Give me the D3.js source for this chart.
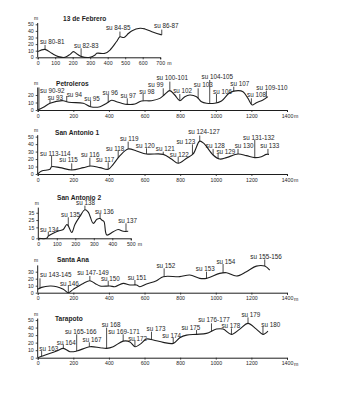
<!DOCTYPE html>
<html><head><meta charset="utf-8">
<script src="https://cdn.jsdelivr.net/npm/d3@7"></script>
<style>
html,body{margin:0;padding:0;background:#fff;}
svg{display:block;}
text{font-family:"Liberation Sans",Arial,sans-serif;fill:#1e1e1e;}
</style></head>
<body><svg id="c" width="342" height="400"></svg>
<script>
// ---------- DATA (distance in m, elevation in m) ----------
const febreroDist = [0,42,80,118,156,185,204,227,251,299,328,337,385,413,451,470,493,518,537,585,613,661,709];
const febreroElev = [8.6,12,6,1,0,4.5,8.6,4.5,1,0,3.5,6,6,11,24,31,30,36,40,44,43,38,34];
const febreroLabels = [["su 80-81",13,23.7,42,18.7],["su 82-83",208,17,248,13.6],["su 84-85",390,44,470,39],["su 86-87",665,47.5,709,42]];

const petrolerosDist = [0,32,69,144,163,190,256,297,350,387,415,443,471,503,546,583,639,686,714,742,770,798,826,854,892,920,948,994,1032,1078,1125,1153,1181,1204,1228,1265,1293];
const petrolerosElev = [0,3.6,9,12.4,11,10,9,4.4,4.4,9,13,11,9,7.5,8,12,12.4,15.5,21,25.8,20,12.4,17.8,20,17.8,11,9,9,12,23,25.8,24.4,15.5,6.7,9.8,13.3,17.8];
const petrolerosLabels = [["su 90-92",13,25.8,7,30],["su 93",56,16.4,69,13.3],["su 94",163,20.9,163,18.7],["su 95",262,15.6,297,12.4],["su 96",364,23,396,20],["su 97",465,18.7,503,15.6],["su 98",570,24.4,592,21.3],["su 99",620,33.3,705,28.9],["su 100-101",667,43.6,742,37.8],["su 102",761,25.8,798,21.3],["su 103",877,33.3,901,28.9],["su 104-105",920,44.4,966,40],["su 106",985,24.4,1004,21.3],["su 107",1082,34.7,1101,31.1],["su 108",1176,20,1200,15.6],["su 109-110",1228,30.2,1284,25.8]];

const antonio1Dist = [0,22,69,78,125,191,256,297,350,396,424,462,508,555,611,705,751,789,836,873,910,933,985,1022,1060,1125,1172,1219,1256,1284,1299];
const antonio1Elev = [0,4,6.3,9.8,8.5,5.4,8.5,10.7,8.5,6.3,13,24.6,33.5,30.8,26.8,26.3,20,14.3,21,26.8,44,41,25.4,20,21.9,26.8,24.6,21.9,23.2,26.3,26.3];
const antonio1Labels = [["su 113-114",13,27.7,78,24.6],["su 115",121,18.8,191,14.3],["su 116",243,26.3,293,21.9],["su 117",327,18.8,396,15.6],["su 118",383,34.4,452,31.3],["su 119",462,46.9,508,43.3],["su 120",551,37.5,611,34.4],["su 121",663,33.5,705,29.9],["su 122",742,26.3,789,23.2],["su 123",779,43.3,869,39.7],["su 124-127",845,56.6,910,51.5],["su 128",944,37.5,985,33.5],["su 129",1004,29.9,1013,26.8],["su 130",1106,37.5,1125,33.5],["su 131-132",1153,49.1,1219,45.5],["su 133",1250,37.5,1293,33.5]];

const antonio2Dist = [0,45,54,81,108,135,154,162,181,198,225,252,270,297,317,334,343,355,370,405,432,459,486];
const antonio2Elev = [0,0,3,7,10,12,19,17,8,19,30,39,36,20.5,26,27,25,23,4.5,9,12,9.6,9.6];
const antonio2Labels = [["su 134",9,12.3,54,9],["su 135",123,31.9,162,28.8],["su 138",204,48,252,44.7],["su 136",306,36.4,334,33.3],["su 137",432,23.7,474,20.5]];

const santaAnaDist = [0,22,69,107,144,172,200,256,293,322,350,406,434,480,518,555,574,611,667,705,798,854,910,948,1022,1060,1116,1172,1228,1275,1303];
const santaAnaElev = [4.8,7.6,9.5,8.6,4.8,0,4.8,13.3,17,13.3,9.5,9.5,8.6,13.3,11,11,8.6,12.4,17,22.9,22.9,25.2,20.5,20.5,27.6,28.6,23.8,30,38,38,32.4];
const santaAnaLabels = [["su 143-145",13,25.2,13,20.5],["su 146",125,13.3,172,11],["su 147-149",222,28.6,293,23.8],["su 150",355,20.5,396,17.1],["su 151",505,21.9,546,18.1],["su 152",667,38.1,710,34.8],["su 153",888,34.8,948,30],["su 154",1004,44.3,1041,41],["su 155-156",1194,51.4,1275,47.6]];

const tarapotoDist = [0,32,107,144,181,219,293,350,387,424,480,518,546,574,611,649,705,761,798,836,892,948,1004,1041,1088,1135,1181,1228,1265,1293];
const tarapotoElev = [0,2.7,8.8,12.4,8,8.8,14.6,13.3,12.4,14.6,22,21,14.6,17.7,24.8,23.5,20.4,19,26.5,30,31,32.3,38,38,31,38,45.6,38,31,35.4];
const tarapotoLabels = [["su 163",9,12.4,22,8.8],["su 164",107,20.4,144,17.7],["su 165-166",153,34.5,219,31],["su 167",252,23.5,290,20.4],["su 168",359,43.4,387,39.8],["su 169-171",396,34.5,480,31],["su 172",508,25.7,546,23.5],["su 173",611,38,639,34.5],["su 174",699,29.2,761,26.5],["su 175",807,39.8,892,36.7],["su 176-177",901,50,976,45.6],["su 178",1032,42.5,1088,38.9],["su 179",1144,56.6,1181,53.5],["su 180",1256,44.2,1265,41.2]];

const panelTitles = ["13 de Febrero","Petroleros","San Antonio 1","San Antonio 2","Santa Ana","Tarapoto"];
const xTicksShort = [0,100,200,300,400,500,600,700];
const xTicksLong = [0,200,400,600,800,1000,1200,1400];
const xTicksSA2 = [0,100,200,300,400,500];
const yTicks1 = [0,10,20,30,40,50];
const yTicks2 = [0,10,20];
const yTicks4 = [0,15,25,35];
const yTicks5 = [0,10,20,30];

// ---------- LAYOUT ----------
const panels = [
  {title:panelTitles[0], dist:febreroDist, elev:febreroElev, labels:febreroLabels, xMax:700, xTicks:xTicksShort, yTicks:yTicks1, yTop:52,
   x0:37.7, x1:160.2, y0:57.3, pxPer10:6.6, tx:63, ty:19},
  {title:panelTitles[1], dist:petrolerosDist, elev:petrolerosElev, labels:petrolerosLabels, xMax:1400, xTicks:xTicksLong, yTicks:yTicks2, yTop:30,
   x0:37.7, x1:287, y0:110, pxPer10:7.5, tx:56, ty:83.3},
  {title:panelTitles[2], dist:antonio1Dist, elev:antonio1Elev, labels:antonio1Labels, xMax:1400, xTicks:xTicksLong, yTicks:yTicks1, yTop:52,
   x0:37.7, x1:287, y0:174, pxPer10:7.47, tx:55, ty:132.3},
  {title:panelTitles[3], dist:antonio2Dist, elev:antonio2Elev, labels:antonio2Labels, xMax:500, xTicks:xTicksSA2, yTicks:yTicks4, yTop:42,
   x0:38.3, x1:130.8, y0:238.3, pxPer10:7.3, tx:57, ty:197.5},
  {title:panelTitles[4], dist:santaAnaDist, elev:santaAnaElev, labels:santaAnaLabels, xMax:1400, xTicks:xTicksLong, yTicks:yTicks5, yTop:39,
   x0:37.7, x1:287, y0:292.7, pxPer10:7, tx:57, ty:260},
  {title:panelTitles[5], dist:tarapotoDist, elev:tarapotoElev, labels:tarapotoLabels, xMax:1400, xTicks:xTicksLong, yTicks:yTicks1, yTop:52,
   x0:37.7, x1:287, y0:357.7, pxPer10:7.53, tx:55, ty:318.3}
];

const ink = "#1e1e1e";
const svg = d3.select("#c");

function interp(dist, elev, m){
  if (m <= dist[0]) return elev[0];
  for (let i=1;i<dist.length;i++){
    if (m <= dist[i]){
      const t=(m-dist[i-1])/(dist[i]-dist[i-1]);
      return elev[i-1]+t*(elev[i]-elev[i-1]);
    }
  }
  return elev[elev.length-1];
}

panels.forEach(p=>{
  const x = d3.scaleLinear().domain([0,p.xMax]).range([p.x0,p.x1]);
  const y = d3.scaleLinear().domain([0,10]).range([p.y0,p.y0-p.pxPer10]);
  const g = svg.append("g");

  // title
  g.append("text").attr("x",p.tx).attr("y",p.ty).attr("dy","0.35em")
    .attr("font-size","6.6px").attr("font-weight","bold").text(p.title);

  // x axis
  const xa = d3.axisBottom(x).tickValues(p.xTicks).tickSize(2).tickPadding(2).tickFormat(d3.format("d"));
  const gx = g.append("g").attr("transform",`translate(0,${p.y0})`).call(xa);
  gx.select(".domain").attr("stroke",ink).attr("stroke-width",1);
  gx.selectAll(".tick line").attr("stroke",ink).attr("stroke-width",0.8);
  gx.selectAll(".tick text").attr("font-size","5.2px").attr("fill",ink)
    .attr("font-family","Liberation Sans, Arial, sans-serif");
  g.append("text").attr("x",x(p.xMax)+7).attr("y",p.y0+6).attr("dy","0.35em")
    .attr("font-size","5.2px").text("m");

  // y axis
  const ya = d3.axisLeft(y).tickValues(p.yTicks).tickSize(2).tickPadding(2).tickFormat(d3.format("d"));
  const gy = g.append("g").attr("transform",`translate(${p.x0},0)`).call(ya);
  gy.select(".domain").remove();
  gy.append("line").attr("x1",0).attr("x2",0).attr("y1",y(0)).attr("y2",y(p.yTop))
    .attr("stroke",ink).attr("stroke-width",1);
  gy.selectAll(".tick line").attr("stroke",ink).attr("stroke-width",0.8);
  gy.selectAll(".tick text").attr("font-size","5.2px").attr("fill",ink)
    .attr("font-family","Liberation Sans, Arial, sans-serif");
  g.append("text").attr("x",p.x0-1.5).attr("y",y(p.yTop)-3).attr("text-anchor","middle")
    .attr("font-size","5px").text("m");

  // profile line
  const pts = p.dist.map((d,i)=>[d,p.elev[i]]);
  const line = d3.line().x(d=>x(d[0])).y(d=>y(d[1])).curve(d3.curveCatmullRom.alpha(0.5));
  g.append("path").attr("d",line(pts)).attr("fill","none").attr("stroke",ink)
    .attr("stroke-width",1.1).attr("stroke-linejoin","round");

  // survey unit labels with markers
  p.labels.forEach(l=>{
    const [name, tdx, tdy, mdx, mtop] = l;
    g.append("text").attr("x",x(tdx)).attr("y",y(tdy)).attr("dy","0.35em")
      .attr("font-size","6.3px").text(name);
    const yb = interp(p.dist,p.elev,mdx);
    g.append("line").attr("x1",x(mdx)).attr("x2",x(mdx))
      .attr("y1",y(mtop)).attr("y2",y(yb))
      .attr("stroke",ink).attr("stroke-width",0.8);
  });
});
</script></body></html>
